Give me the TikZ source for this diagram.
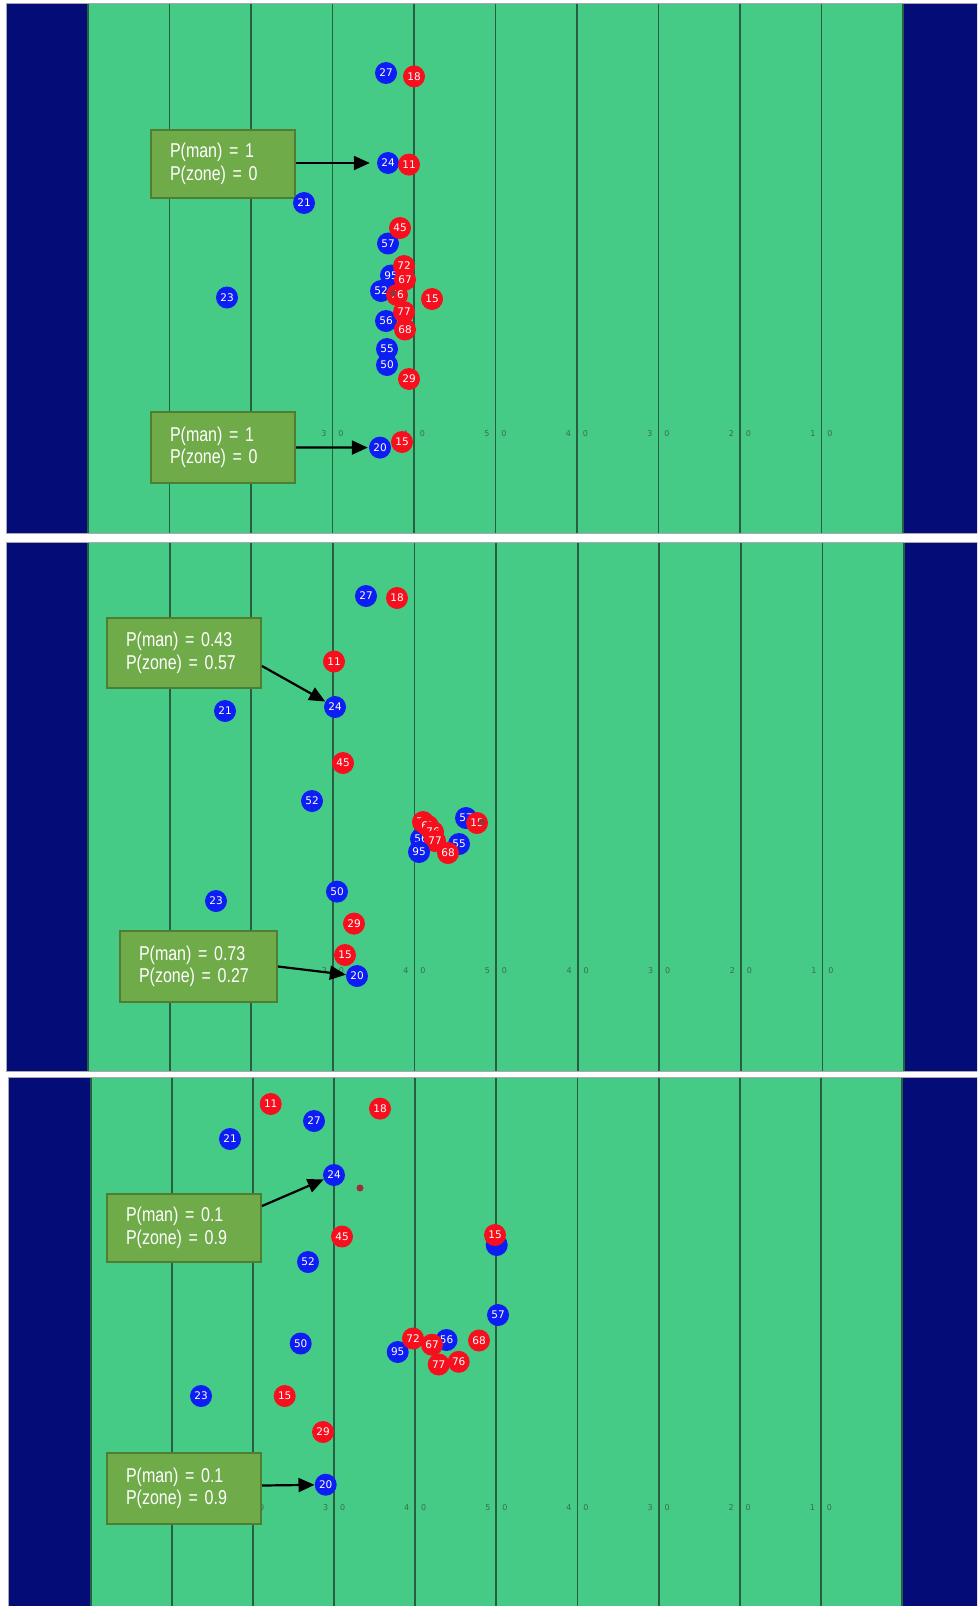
\documentclass[tikz,border=0pt]{standalone}
\usepackage{fontspec}
\usetikzlibrary{arrows.meta,calc}
\newfontfamily\boxff[FakeStretch=0.8,WordSpace=0.55]{Liberation Sans}
\newfontfamily\plff{DejaVu Sans}
\newcommand\boxfnt{\boxff\fontsize{20}{22.5}\selectfont}
\newcommand\plfnt{\plff\fontsize{10.5}{12}\selectfont}
\newcommand\ydfnt{\plff\fontsize{8}{9}\selectfont}
\definecolor{navyc}{HTML}{040C78}
\definecolor{fieldc}{HTML}{46CB87}
\definecolor{linec}{HTML}{285E41}
\definecolor{yardc}{HTML}{3B6A52}
\definecolor{pblue}{HTML}{0D1EF5}
\definecolor{pred}{HTML}{F70F1E}
\definecolor{ballc}{HTML}{9E3036}
\definecolor{boxfill}{HTML}{70AB4A}
\definecolor{boxedge}{HTML}{4F7D33}
\definecolor{bordc}{HTML}{A8A8B0}
% #1 id, #2 top, #3 bottom, #4 left, #5 field left, #6 field right, #7 yard y, #8 yard lines shown
\newcommand\PanelBg[8]{%
  \fill[navyc] (#4,#2) rectangle (985,#3);
  \fill[fieldc] (#5,#2) rectangle (#6,#3);
  \foreach \k in {0,...,10} {\draw[fieldline] ({#5+\k*(#6-#5)/10},#2) -- ({#5+\k*(#6-#5)/10},#3);}
  \foreach \k in {#8} {%
    \pgfmathtruncatemacro\dd{5-abs(\k-5)}%
    \node[yard] (y#1-\k-a) at ({#5+\k*(#6-#5)/10-8.5},#7) {\dd};
    \node[yard] (y#1-\k-b) at ({#5+\k*(#6-#5)/10+8.5},#7) {0};}
  \draw[bordc, line width=1pt] (#4,#2) rectangle (990,#3);
}
\newcommand\BP[3]{\node[bluep] (#1) at (#2) {#3};}
\newcommand\RP[3]{\node[redp] (#1) at (#2) {#3};}
\begin{document}
\begin{tikzpicture}[x=1pt,y=-1pt,
  fieldline/.style={draw=linec, line width=1.8pt},
  yard/.style={font=\ydfnt, text=yardc, inner sep=0pt},
  player/.style={circle, minimum size=22pt, inner sep=0pt, text=white, font=\plfnt},
  bluep/.style={player, fill=pblue},
  redp/.style={player, fill=pred},
  ball/.style={circle, fill=ballc, minimum size=7pt, inner sep=0pt},
  probbox/.style={draw=boxedge, fill=boxfill, line width=2pt, inner xsep=19pt, inner ysep=0pt, align=left, text=white, font=\boxfnt},
  arr/.style={line width=2.2pt, -{Triangle[length=16pt,width=14pt]}}]
\useasboundingbox (0,0) rectangle (977,1606);
\clip (0,0) rectangle (977,1606);
\fill[white] (0,0) rectangle (977,1606);
\PanelBg{1}{3}{533}{6}{88}{903}{434}{3,...,9}
\PanelBg{2}{542}{1071}{6}{88}{904}{971}{3,...,9}
\PanelBg{3}{1077}{1615}{8}{90.7}{902}{1507.6}{3,...,9}
\node[yard] (y3-2-b) at (261.7,1507.6) {0};

% ---------- panel 1 ----------
\node[probbox, minimum width=144pt, minimum height=68pt, text width=106pt] (pb1) at (223,164) {P(man) = 1\\P(zone) = 0};
\node[probbox, minimum width=144pt, minimum height=71pt, text width=106pt] (pb2) at (223,447.5) {P(man) = 1\\P(zone) = 0};
\BP{a27}{386,73}{27}
\BP{a24}{388,163}{24}
\BP{a21}{304,203}{21}
\BP{a57}{388,243.5}{57}
\BP{a95}{391,275.5}{95}
\BP{a52}{381,291}{52}
\BP{a23}{227,297.5}{23}
\BP{a56}{386,321}{56}
\BP{a55}{387,349}{55}
\BP{a50}{387,365}{50}
\BP{a20}{380,447.6}{20}
\RP{a18}{414,76.4}{18}
\RP{a11}{409,164.6}{11}
\RP{a45}{400,228}{45}
\RP{a72}{404,266}{72}
\RP{a67}{405,279.6}{67}
\RP{a76}{397,295}{76}
\RP{a15}{432,299}{15}
\RP{a77}{404,312}{77}
\RP{a68}{405,329.5}{68}
\RP{a29}{409,379}{29}
\RP{a15b}{402,442}{15}
\node[ball] (aball) at (393,293) {};
\draw[arr, shorten >=7pt] ($(pb1.east)+(0,-1)$) -- (a24.west);
\draw[arr, shorten >=1pt] (pb2.east) -- (a20);

% ---------- panel 2 ----------
\node[probbox, minimum width=154pt, minimum height=70pt, text width=116pt] (pbA) at (184,653) {P(man) = 0.43\\P(zone) = 0.57};
\node[probbox, minimum width=157pt, minimum height=71pt, text width=119pt] (pbB) at (198.5,966.5) {P(man) = 0.73\\P(zone) = 0.27};
\BP{b27}{366,596}{27}
\BP{b21}{225,711}{21}
\BP{b24}{335,707}{24}
\BP{b52}{312,801}{52}
\BP{b57}{466,818}{57}
\BP{b56}{421,839}{56}
\BP{b55}{459,844}{55}
\BP{b50}{337,891.6}{50}
\BP{b23}{216,901}{23}
\BP{b20}{357,976}{20}
\RP{b18}{397,598}{18}
\RP{b11}{334,661.5}{11}
\RP{b45}{343,763}{45}
\RP{b72}{423,822}{72}
\RP{b67}{428,826}{67}
\RP{b76}{433,832}{76}
\RP{b77}{435,841}{77}
\RP{b68}{448,853}{68}
\RP{b15}{477,823}{15}
\RP{b29}{354,923.6}{29}
\RP{b15b}{345,955}{15}
\BP{b95}{419,852}{95}
\node[ball] (bball) at (482,822) {};
\draw[arr] ($(pbA.east)+(0,13)$) -- (b24);
\draw[arr] (pbB.east) -- (b20);

% ---------- panel 3 ----------
\node[probbox, minimum width=154pt, minimum height=68pt, text width=116pt] (pbC) at (184,1227.7) {P(man) = 0.1\\P(zone) = 0.9};
\node[probbox, minimum width=154pt, minimum height=71pt, text width=116pt] (pbD) at (184,1488.5) {P(man) = 0.1\\P(zone) = 0.9};
\BP{c27}{314,1121}{27}
\BP{c21}{230,1139}{21}
\BP{c24}{334,1175}{24}
\BP{c52}{308,1262}{52}
\node[bluep] (c55) at (496.7,1245) {};
\BP{c57}{498,1315}{57}
\BP{c56}{446.5,1340}{56}
\BP{c95}{397.7,1352}{95}
\BP{c50}{300.7,1343.5}{50}
\BP{c23}{201,1396}{23}
\BP{c20}{325.7,1484.7}{20}
\RP{c11}{270.7,1104}{11}
\RP{c18}{380,1108.6}{18}
\RP{c45}{342,1236.5}{45}
\RP{c15}{495,1235}{15}
\RP{c72}{413,1338.5}{72}
\RP{c67}{432,1344.7}{67}
\RP{c77}{438.7,1364.5}{77}
\RP{c76}{458.7,1361.8}{76}
\RP{c68}{479,1340.5}{68}
\RP{c15b}{284.7,1396}{15}
\RP{c29}{323,1432}{29}
\node[ball] (cball) at (360,1188) {};
\draw[arr] ($(pbC.east)+(0,-21.7)$) -- (c24);
\draw[arr] ($(pbD.east)+(0,-3)$) -- (c20);
\end{tikzpicture}
\end{document}
